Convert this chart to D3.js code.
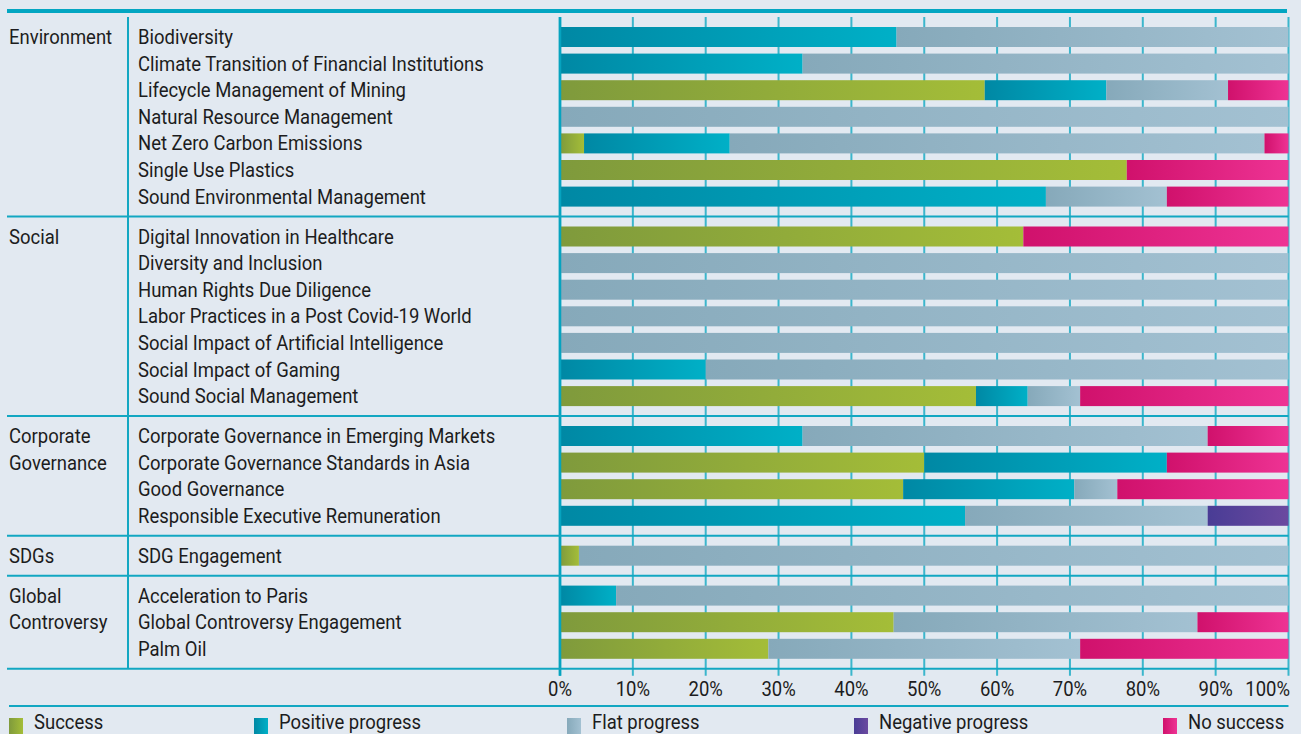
<!DOCTYPE html>
<html>
<head>
<meta charset="utf-8">
<script src="https://cdn.jsdelivr.net/npm/d3@7"></script>
<style>
  html, body { margin: 0; padding: 0; background: #e2e9f1; }
  svg { display: block; font-family: Roboto, "Open Sans", sans-serif; }
</style>
</head>
<body>
<div id="chartDiv"></div>
<script>
// chart data
var groups = ["Environment", "Social", "Corporate Governance", "SDGs", "Global Controversy"];
var groupLines = [["Environment"], ["Social"], ["Corporate", "Governance"], ["SDGs"], ["Global", "Controversy"]];
var categories = [
  "Biodiversity", "Climate Transition of Financial Institutions", "Lifecycle Management of Mining",
  "Natural Resource Management", "Net Zero Carbon Emissions", "Single Use Plastics", "Sound Environmental Management",
  "Digital Innovation in Healthcare", "Diversity and Inclusion", "Human Rights Due Diligence",
  "Labor Practices in a Post Covid-19 World", "Social Impact of Artificial Intelligence", "Social Impact of Gaming",
  "Sound Social Management",
  "Corporate Governance in Emerging Markets", "Corporate Governance Standards in Asia", "Good Governance",
  "Responsible Executive Remuneration",
  "SDG Engagement",
  "Acceleration to Paris", "Global Controversy Engagement", "Palm Oil"
];
var categoryGroup = [0,0,0,0,0,0,0, 1,1,1,1,1,1,1, 2,2,2,2, 3, 4,4,4];
var seriesNames = ["Success", "Positive progress", "Flat progress", "Negative progress", "No success"];
var success  = [0, 0, 58.3, 0, 3.3, 77.8, 0,  63.6, 0, 0, 0, 0, 0, 57.1,  0, 50, 47.1, 0,  2.6,  0, 45.8, 28.6];
var positive = [46.2, 33.3, 16.7, 0, 20, 0, 66.7,  0, 0, 0, 0, 0, 20, 7.1,  33.3, 33.3, 23.5, 55.6,  0,  7.7, 0, 0];
var flat     = [53.8, 66.7, 16.7, 100, 73.4, 0, 16.6,  0, 100, 100, 100, 100, 80, 7.2,  55.6, 0, 5.9, 33.3,  97.4,  92.3, 41.7, 42.8];
var negative = [0, 0, 0, 0, 0, 0, 0,  0, 0, 0, 0, 0, 0, 0,  0, 0, 0, 11.1,  0,  0, 0, 0];
var noSuccess= [0, 0, 8.3, 0, 3.3, 22.2, 16.7,  36.4, 0, 0, 0, 0, 0, 28.6,  11.1, 16.7, 23.5, 0,  0,  0, 12.5, 28.6];
var tickValues = [0, 10, 20, 30, 40, 50, 60, 70, 80, 90, 100];

var colorStops = [
  ["#7f9a3c", "#a4bd38"],
  ["#0088a4", "#00b0c7"],
  ["#86a9ba", "#a3c1d2"],
  ["#493c95", "#6b4aa0"],
  ["#d0116c", "#ee3394"]
];

var width = 1301, height = 734;
var lineColor = "#12a7c2";
var textColor = "#1c1c20";

var svg = d3.select("#chartDiv")
  .append("svg")
    .attr("width", width)
    .attr("height", height);

// gradients, one per series (each bar segment gets its own left-to-right fade)
var defs = svg.append("defs");
colorStops.forEach(function(c, i) {
  var g = defs.append("linearGradient")
    .attr("id", "grad" + i)
    .attr("x1", "0%").attr("x2", "100%").attr("y1", "0%").attr("y2", "0%");
  g.append("stop").attr("offset", "0%").attr("stop-color", c[0]);
  g.append("stop").attr("offset", "100%").attr("stop-color", c[1]);
});

// row positions: each section adds half a row of extra space
var rowPos = categories.map(function(d, i) { return i + categoryGroup[i] * 0.5; });
var y = d3.scaleLinear().domain([0, 23]).range([37, 648.8]);
var x = d3.scaleLinear().domain([0, 100]).range([560, 1288.5]);
var barH = 20;

// stacked series
var table = categories.map(function(c, i) {
  return { cat: c, i: i, s0: success[i], s1: positive[i], s2: flat[i], s3: negative[i], s4: noSuccess[i] };
});
var stacked = d3.stack().keys(["s0", "s1", "s2", "s3", "s4"])(table);

// measure font width so labels can be narrowed like the original condensed face
var fontSize = 19.5;
var probe = svg.append("text").style("font-size", fontSize + "px")
  .text("Climate Transition of Financial Institutions");
var squeeze = 346 / probe.node().getComputedTextLength();
probe.remove();

function addText(parent, tx, ty, str, anchor) {
  return parent.append("text")
    .attr("transform", "translate(" + tx + "," + ty + ") scale(" + squeeze + ",1)")
    .attr("text-anchor", anchor || "start")
    .style("font-size", fontSize + "px")
    .style("fill", textColor)
    .text(str);
}

// top rule
svg.append("line")
  .attr("x1", 7).attr("x2", 1287).attr("y1", 11).attr("y2", 11)
  .style("stroke", "#03a6c2").style("stroke-width", 4);

var topY = y(-0.75), bottomY = y(23.75);

// grid lines
svg.append("g").selectAll("line")
  .data(tickValues)
  .enter().append("line")
    .attr("x1", function(d) { return x(d); })
    .attr("x2", function(d) { return x(d); })
    .attr("y1", topY)
    .attr("y2", bottomY + 7)
    .style("stroke", "#3bb6cc")
    .style("stroke-width", function(d) { return d === 0 ? 2.5 : 2; });

// bars
svg.append("g").selectAll("g")
  .data(stacked)
  .enter().append("g")
    .attr("fill", function(d, i) { return "url(#grad" + i + ")"; })
  .selectAll("rect")
  .data(function(d) { return d.filter(function(e) { return e[1] - e[0] > 0; }); })
  .enter().append("rect")
    .attr("x", function(d) { return x(d[0]); })
    .attr("width", function(d) { return x(d[1]) - x(d[0]); })
    .attr("y", function(d) { return y(rowPos[d.data.i]) - barH / 2; })
    .attr("height", barH);

// zero axis on top of the bars
svg.append("line")
  .attr("x1", x(0)).attr("x2", x(0)).attr("y1", topY).attr("y2", bottomY + 7)
  .style("stroke", "#06a3bf").style("stroke-width", 2.5);

// section separators
var sepY = [];
for (var gi = 1; gi < groups.length; gi++) {
  var first = categoryGroup.indexOf(gi);
  sepY.push(y(rowPos[first] - 0.75));
}
sepY.push(bottomY);
svg.append("g").selectAll("line")
  .data(sepY)
  .enter().append("line")
    .attr("x1", 7).attr("x2", 1288.5)
    .attr("y1", function(d) { return d; })
    .attr("y2", function(d) { return d; })
    .style("stroke", lineColor).style("stroke-width", 2);

// label column divider
svg.append("line")
  .attr("x1", 128).attr("x2", 128).attr("y1", topY).attr("y2", bottomY)
  .style("stroke", lineColor).style("stroke-width", 2);

// category labels
var labels = svg.append("g");
categories.forEach(function(c, i) {
  addText(labels, 138, y(rowPos[i]) + 7, c);
});

// group labels
groups.forEach(function(g, gi) {
  var first = categoryGroup.indexOf(gi);
  groupLines[gi].forEach(function(line, li) {
    addText(labels, 9, y(rowPos[first] + li) + 7, line);
  });
});

// x axis tick labels
var axisG = svg.append("g");
tickValues.forEach(function(t) {
  if (t === 100) addText(axisG, 1290, 696, t + "%", "end");
  else addText(axisG, x(t), 696, t + "%", "middle");
});

// legend
svg.append("line")
  .attr("x1", 9).attr("x2", 1288.5).attr("y1", 706).attr("y2", 706)
  .style("stroke", lineColor).style("stroke-width", 2);

var legendX = [9, 254, 567, 854, 1163];
var legend = svg.append("g");
seriesNames.forEach(function(s, i) {
  legend.append("rect")
    .attr("x", legendX[i]).attr("y", 718)
    .attr("width", 14).attr("height", 16)
    .attr("fill", "url(#grad" + i + ")");
  addText(legend, legendX[i] + 25, 729, s);
});
</script>
</body>
</html>
